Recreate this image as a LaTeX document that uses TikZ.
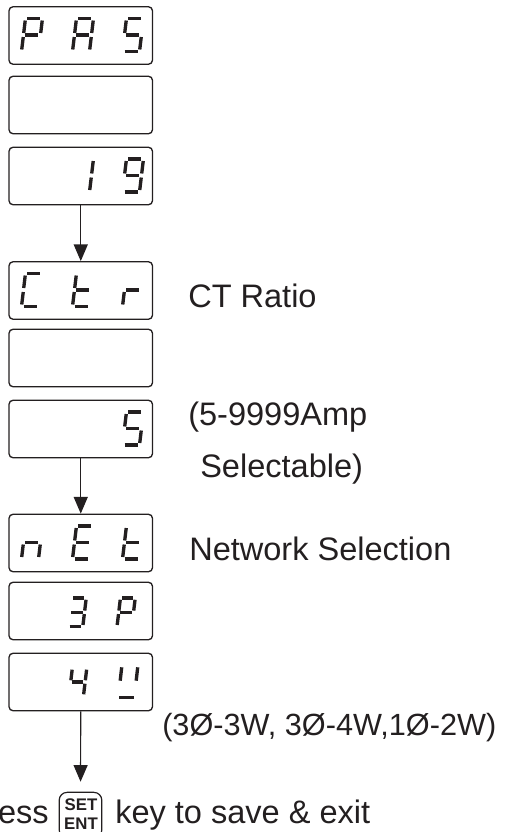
\documentclass[tikz,border=0pt]{standalone}
\usepackage{fontspec}
\setmainfont{Liberation Sans}
\usetikzlibrary{arrows.meta}
\definecolor{ink}{HTML}{231F20}
\tikzset{
  segline/.style={draw=ink, line width=2.5pt},
  lcd/.style={draw=ink, line width=1pt, rounded corners=3pt, minimum width=107.6pt, minimum height=43.1pt, inner sep=0pt},
  arr/.style={draw=ink, line width=0.9pt, -{Triangle[width=10.5pt,length=12.5pt]}},
  lbl/.style={font=\fontsize{24.4}{29}\selectfont, text=ink, inner sep=0pt, anchor=base west},
  keybox/.style={draw=ink, line width=0.9pt, rounded corners=6pt, minimum width=32pt, minimum height=34pt, inner sep=0pt},
  keytxt/.style={font=\fontsize{12.6}{15}\selectfont\bfseries, text=ink, inner sep=0pt, anchor=base}
}
% seven segments, local pixel coordinates (y down), origin at bottom-left
\newcommand\segA{\draw[segline] (5.96,-33) -- (18.96,-33);}
\newcommand\segB{\draw[segline] (20.72,-31) -- (19.22,-18.5);}
\newcommand\segC{\draw[segline] (18.74,-14.5) -- (17.24,-2);}
\newcommand\segD{\draw[segline] (2,0) -- (15,0);}
\newcommand\segE{\draw[segline] (0.24,-2) -- (1.74,-14.5);}
\newcommand\segF{\draw[segline] (2.22,-18.5) -- (3.72,-31);}
\newcommand\segG{\draw[segline] (3.98,-16.5) -- (16.98,-16.5);}
\newcommand\dg[4][1]{\begin{scope}[shift={(#2,#3)},scale=#1]#4\end{scope}}
\begin{document}
\begin{tikzpicture}[x=0.75pt,y=-0.75pt]
\useasboundingbox (0,0) rectangle (510,832);
% boxes
\node[lcd] (b1) at (80.75,35.5) {};
\node[lcd] (b2) at (80.75,105) {};
\node[lcd] (b3) at (80.75,176) {};
\node[lcd] (b4) at (80.75,290.5) {};
\node[lcd] (b5) at (80.75,358) {};
\node[lcd] (b6) at (80.75,429) {};
\node[lcd] (b7) at (80.75,543) {};
\node[lcd] (b8) at (80.75,611) {};
\node[lcd] (b9) at (80.75,682) {};
% digits
\dg{21.5}{51.5}{\segA\segB\segE\segF\segG}
\dg{72.5}{51.5}{\segA\segB\segC\segE\segF\segG}
\dg{122.5}{51.5}{\segA\segC\segD\segF\segG}
\dg{72.5}{192}{\segB\segC}
\dg{122.5}{192}{\segA\segB\segC\segD\segF\segG}
\dg{21.5}{306.5}{\segA\segD\segE\segF}
\dg{72.5}{306.5}{\segD\segE\segF\segG}
\dg{122.5}{306.5}{\segE\segG}
\dg{122.5}{445}{\segA\segC\segD\segF\segG}
\dg{21.5}{559}{\segC\segE\segG}
\dg{72.5}{559}{\segA\segD\segE\segF\segG}
\dg{122.5}{559}{\segD\segE\segF\segG}
\dg[0.87]{68}{626.7}{\segA\segB\segC\segD\segG}
\dg[0.87]{117}{626.7}{\segA\segB\segE\segF\segG}
\dg[0.85]{69}{696}{\segB\segC\segF\segG}
\draw[segline] (121.7,667.3) -- (120.2,680.7);
\draw[segline] (137.7,667.3) -- (136.2,680.7);
\draw[segline] (119,697.5) -- (134.3,697.5);
% labels
\node[lbl] (ct) at (188,307) {CT Ratio};
\node[lbl] (amp) at (188,425) {(5-9999Amp};
\node[lbl] (sel) at (200,477) {Selectable)};
\node[lbl] (net) at (189,560) {Network Selection};
\node[lbl, font=\fontsize{23}{28}\selectfont] (wire) at (162,735) {(3Ø-3W, 3Ø-4W,1Ø-2W)};
\node[keybox] (key) at (80.5,815) {};
\node[keytxt] (kset) at (81,810) {SET};
\node[keytxt] (kent) at (81,829.5) {ENT};
\node[lbl, anchor=base east] (press) at (49,823) {Press};
\node[lbl] (save) at (115,823) {key to save \& exit};
% arrows
\draw[arr] (b3) -- (b4);
\draw[arr] (b6) -- (b7);
\draw[arr, shorten >=7.5pt] (b9) -- (key);
\end{tikzpicture}
\end{document}
